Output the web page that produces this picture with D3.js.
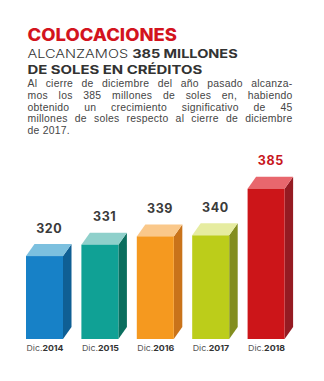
<!DOCTYPE html>
<html><head><meta charset="utf-8">
<script src="https://cdn.jsdelivr.net/npm/d3@7"></script>
<style>html,body{margin:0;padding:0;background:#fff;}svg{display:block;}</style>
</head><body>
<script>
const categories = ["2014", "2015", "2016", "2017", "2018"];
const values = [320, 331, 339, 340, 385];
const catPrefix = "Dic.";
const frontColors = ["#1781c7", "#10a195", "#f5991f", "#bccd1a", "#cc1519"];
const sideColors  = ["#0f5f94", "#0a6e5e", "#c9731a", "#838e1f", "#951b22"];
const topColors   = ["#7cc0df", "#8fd0cb", "#fac88a", "#e6eca0", "#e8676d"];
const title = "COLOCACIONES";
const subtitle1Light = "ALCANZAMOS ";
const subtitle1Bold = "385 MILLONES";
const subtitle2 = "DE SOLES EN CRÉDITOS";
const paragraph = [
  "Al cierre de diciembre del año pasado alcanza-",
  "mos los 385 millones de soles en, habiendo",
  "obtenido un crecimiento significativo de 45",
  "millones de soles respecto al cierre de diciembre",
  "de 2017."
];

const W = 324, H = 381;
const svg = d3.select("body").append("svg").attr("width", W).attr("height", H);
const FONT = "Inter, 'Open Sans', 'DejaVu Sans', sans-serif";

function fitWidth(sel, x, w) {
  const bb = sel.node().getBBox();
  const s = w / bb.width;
  const y = +sel.attr("y");
  sel.attr("x", 0).attr("transform", `translate(${x},${y}) scale(${s},1) translate(${-bb.x},${-y})`);
}

// Title
const t = svg.append("text").attr("x", 0).attr("y", 41.5)
  .attr("font-family", FONT).attr("font-weight", 800).attr("font-size", 17)
  .attr("fill", "#d3141e").text(title);
fitWidth(t, 27.5, 149.5);

const s1 = svg.append("text").attr("x", 0).attr("y", 58.2)
  .attr("font-family", FONT).attr("font-size", 12).attr("fill", "#333");
s1.append("tspan").attr("font-weight", 300).text(subtitle1Light);
s1.append("tspan").attr("font-weight", 700).text(subtitle1Bold);
fitWidth(s1, 27.5, 210.5);

const s2 = svg.append("text").attr("x", 0).attr("y", 74.2)
  .attr("font-family", FONT).attr("font-size", 12).attr("font-weight", 700)
  .attr("fill", "#333").text(subtitle2);
fitWidth(s2, 27.5, 175);

// Paragraph (justified)
const px0 = 27.5, px1 = 292.5;
paragraph.forEach((line, i) => {
  const tx = svg.append("text").attr("x", px0).attr("y", 87.3 + i * 11.7)
    .attr("font-family", "'Liberation Sans', Arial, sans-serif").attr("font-size", 10.4)
    .attr("letter-spacing", 0.25)
    .attr("fill", "#454545").text(line);
  if (i < paragraph.length - 1) {
    const nat = tx.node().getComputedTextLength();
    const spaces = (line.match(/ /g) || []).length;
    tx.attr("word-spacing", (px1 - px0 - nat) / spaces);
  }
});

// Chart
const x = d3.scaleBand().domain(categories).range([26, 284.6]).paddingInner(0.332).paddingOuter(0);
const y = d3.scaleLinear().domain([240, 385]).range([339, 188.7]);
const DX = 8.5, DY = -12;
const bw = x.bandwidth();

const g = svg.append("g");
categories.forEach((c, i) => {
  const x0 = x(c), x1 = x0 + bw, yt = y(values[i]), yb = y(240);
  g.append("path").attr("d", `M${x1},${yt}L${x1+DX},${yt+DY}L${x1+DX},${yb+DY}L${x1},${yb}Z`)
    .attr("fill", sideColors[i]);
  g.append("path").attr("d", `M${x0},${yt}L${x0+DX},${yt+DY}L${x1+DX},${yt+DY}L${x1},${yt}Z`)
    .attr("fill", topColors[i]);
  g.append("rect").attr("x", x0).attr("y", yt).attr("width", bw).attr("height", yb - yt)
    .attr("fill", frontColors[i]);
  g.append("text").attr("x", x0 + (bw + DX) / 2 + 0.5).attr("y", yt + DY - 11.5)
    .attr("text-anchor", "middle").attr("font-family", FONT).attr("font-weight", 700)
    .attr("font-size", 12.5).attr("fill", i === values.length - 1 ? "#c8161d" : "#3a3a3a")
    .attr("letter-spacing", 0.6)
    .text(values[i]);
  const cl = g.append("text").attr("x", 0).attr("y", 351.5)
    .attr("font-family", FONT).attr("font-size", 7.8);
  cl.append("tspan").attr("font-weight", 400).attr("fill", "#555").text(catPrefix);
  cl.append("tspan").attr("font-weight", 700).attr("fill", "#333").text(c);
  fitWidth(cl, x0 + 0.5, bw);
});
</script>
</body></html>
